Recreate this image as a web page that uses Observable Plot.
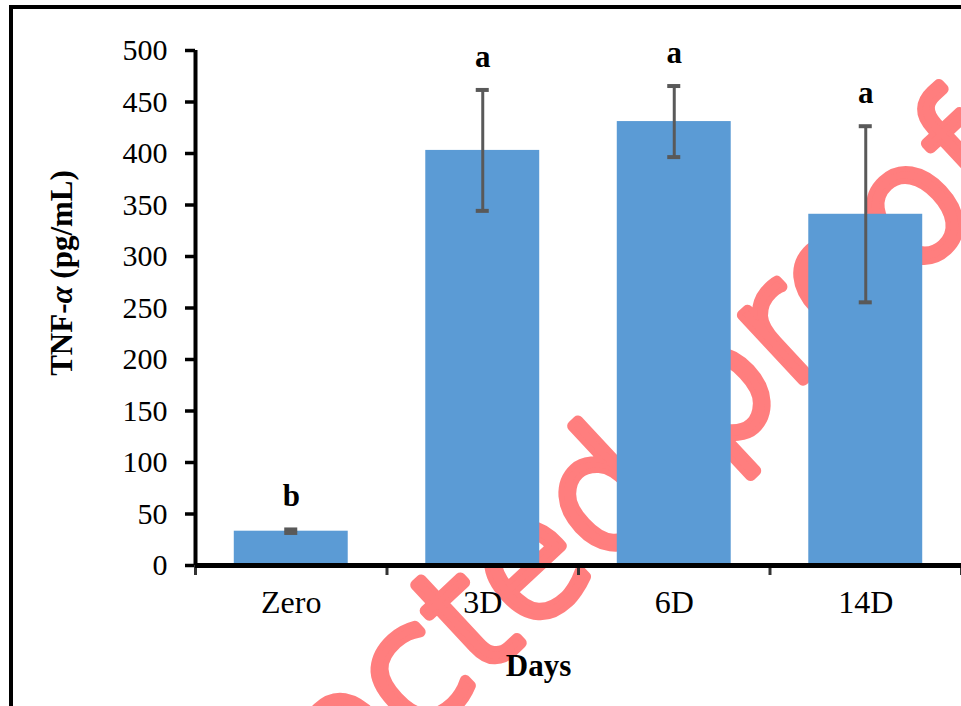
<!DOCTYPE html>
<html><head><meta charset="utf-8">
<script src="https://cdn.jsdelivr.net/npm/d3@7"></script>
<script src="https://cdn.jsdelivr.net/npm/@observablehq/plot@0.6"></script>
<style>
html,body{margin:0;padding:0;background:#fff;}
#wrap{position:relative;width:961px;height:706px;overflow:hidden;}
#border{position:absolute;left:9px;top:5px;width:1000px;height:800px;border-left:4px solid #000;border-top:4px solid #000;pointer-events:none;}
</style></head><body>
<div id="wrap"><div id="chart"></div><div id="border"></div></div>
<script>
// ---- data ----
const categories = ["Zero", "3D", "6D", "14D"];
const means = [33.3, 403, 431, 341];
const errors = [1.7, 58.7, 34.5, 85.5];
const letters = ["b", "a", "a", "a"];
const yTicks = [0, 50, 100, 150, 200, 250, 300, 350, 400, 450, 500];
const yTitle = "TNF-α (pg/mL)";
const xTitle = "Days";
const watermark = "Uncorrected proof";

const data = categories.map((c, i) => ({i, category: c, mean: means[i], err: errors[i], letter: letters[i]}));
const caps = data.flatMap(d => [{i: d.i, v: d.mean + d.err}, {i: d.i, v: d.mean - d.err}]);

const serif = "'Liberation Serif', 'Times New Roman', serif";
const barHalf = 0.2975, capHalf = 0.034;

const chart = Plot.plot({
  width: 961, height: 706,
  marginLeft: 195, marginRight: 0, marginTop: 50, marginBottom: 141,
  style: {fontFamily: serif, fontSize: "30px", color: "#000", background: "transparent", overflow: "visible"},
  x: {type: "linear", domain: [0, categories.length]},
  y: {domain: [0, d3.max(yTicks)]},
  marks: [
    Plot.text([watermark], {text: d => d, frameAnchor: "top-left", textAnchor: "middle", lineAnchor: "middle",
      dx: 253, dy: 589, rotate: -43,
      fontSize: 163, fontFamily: "'DejaVu Sans', sans-serif", fontWeight: 200,
      fill: "#ff7e7e", stroke: "#ff7e7e", strokeWidth: 11, strokeLinejoin: "round"}),
    Plot.rectY(data, {x1: d => d.i + 0.5 - barHalf, x2: d => d.i + 0.5 + barHalf, y: "mean", fill: "#5b9bd5"}),
    Plot.ruleX(data, {x: d => d.i + 0.5, y1: d => d.mean - d.err, y2: d => d.mean + d.err, stroke: "#595959", strokeWidth: 3}),
    Plot.ruleY(caps, {y: "v", x1: d => d.i + 0.5 - capHalf, x2: d => d.i + 0.5 + capHalf, stroke: "#595959", strokeWidth: 4}),
    Plot.text(data, {x: d => d.i + 0.5, y: d => d.mean + d.err, text: "letter", dy: -23, lineAnchor: "bottom",
      fontWeight: "bold", fontSize: 31, fontFamily: serif, fill: "#000"}),
    Plot.axisY({ticks: yTicks, tickSize: 10, tickPadding: 18, strokeWidth: 3.5, fontSize: 30, label: null}),
    Plot.axisX({ticks: d3.range(categories.length + 1), tickSize: 10, tickFormat: () => "", strokeWidth: 3, stroke: "#333", label: null}),
    Plot.axisX({ticks: categories.map((_, i) => i + 0.5), tickSize: 0, tickPadding: 25,
      tickFormat: d => categories[Math.round(d - 0.5)], fontSize: 32, label: null}),
    Plot.ruleX([0], {strokeWidth: 4, stroke: "#000"}),
    Plot.ruleY([0], {strokeWidth: 5, stroke: "#000"}),
    Plot.text([xTitle], {text: d => d, frameAnchor: "bottom", textAnchor: "middle", dx: -40, dy: 110, lineAnchor: "bottom",
      fontWeight: "bold", fontSize: 31, fontFamily: serif, fill: "#000"}),
    Plot.text([yTitle], {text: d => d, frameAnchor: "left", textAnchor: "middle", lineAnchor: "middle", dx: -133, dy: -35, rotate: -90,
      fontWeight: "bold", fontSize: 31, fontFamily: serif, fill: "#000"})
  ]
});
document.getElementById("chart").appendChild(chart);

// italic alpha in the y title
d3.select(chart).selectAll("text").filter(function() { return this.textContent === yTitle; })
  .each(function() {
    const t = d3.select(this);
    t.text("");
    t.append("tspan").text("TNF-");
    t.append("tspan").attr("font-style", "italic").text("α");
    t.append("tspan").text(" (pg/mL)");
  });
</script>
</body></html>
